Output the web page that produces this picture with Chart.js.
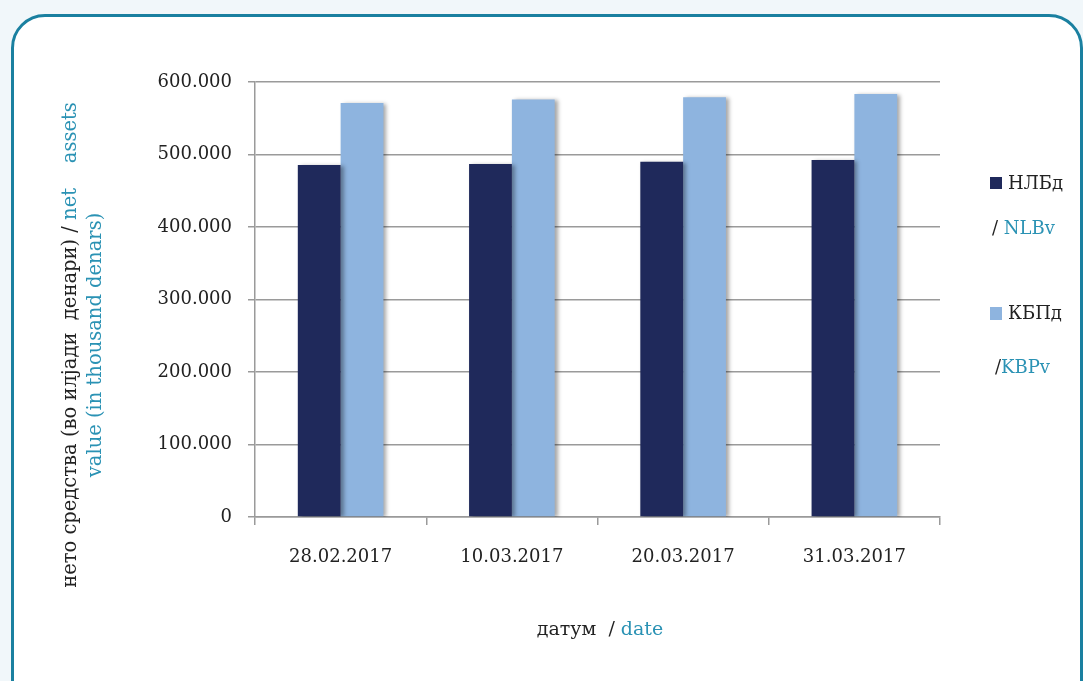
<!DOCTYPE html>
<html lang="mk">
<head>
  <meta charset="UTF-8">
  <title>Нето средства</title>
  <script src="https://cdn.jsdelivr.net/npm/chart.js"></script>
  <style>
    html, body { margin: 0; padding: 0; background: #f1f7fa; }
    .frame {
      position: absolute; left: 11px; top: 14px; width: 1066px; height: 720px;
      border: 3px solid #1a80a0; border-radius: 34px; background: #fff;
    }
    #chart { position: absolute; left: 0; top: 0; }
  </style>
</head>
<body>
  <div class="frame"></div>
  <canvas id="chart" width="1083" height="681"></canvas>

  <script>
    const dates = ['28.02.2017', '10.03.2017', '20.03.2017', '31.03.2017'];
    const nlbValues = [485500, 487000, 490000, 492300];
    const kbpValues = [571000, 576000, 579000, 583500];
    const yTicks = [0, 100000, 200000, 300000, 400000, 500000, 600000];

    const DARK = '#1f295b';
    const LIGHT = '#8eb4df';
    const TEAL = '#2a92b4';
    const INK = '#222';
    const SERIF = '"DejaVu Serif", "Liberation Serif", serif';

    // draw a row of [text, colour] pieces starting at x
    function drawPieces(ctx, pieces, x, y) {
      pieces.forEach(([t, c]) => {
        ctx.fillStyle = c;
        ctx.fillText(t, x, y);
        x += ctx.measureText(t).width;
      });
    }
    function piecesWidth(ctx, pieces) {
      return pieces.reduce((w, [t]) => w + ctx.measureText(t).width, 0);
    }

    const barShadow = {
      id: 'barShadow',
      beforeDatasetsDraw(chart) {
        const ctx = chart.ctx;
        ctx.save();
        ctx.shadowColor = 'rgba(0,0,0,0.35)';
        ctx.shadowOffsetX = 3;
        ctx.shadowOffsetY = 1;
        ctx.shadowBlur = 4;
      },
      afterDatasetsDraw(chart) {
        chart.ctx.restore();
      }
    };

    const titles = {
      id: 'titles',
      afterDraw(chart) {
        const ctx = chart.ctx;
        ctx.save();
        ctx.textBaseline = 'middle';
        ctx.font = '19.5px ' + SERIF;

        // y axis title, rotated, two lines
        const line1 = [['нето средства (во илјади  денари) / ', INK], ['net    assets', TEAL]];
        const line2 = [['value (in thousand denars)', TEAL]];
        ctx.save();
        ctx.translate(71, 345);
        ctx.rotate(-Math.PI / 2);
        drawPieces(ctx, line1, -piecesWidth(ctx, line1) / 2, 0);
        ctx.restore();
        ctx.save();
        ctx.translate(96, 345);
        ctx.rotate(-Math.PI / 2);
        drawPieces(ctx, line2, -piecesWidth(ctx, line2) / 2, 0);
        ctx.restore();

        // x axis title
        ctx.font = '19px ' + SERIF;
        const xt = [['датум  / ', INK], ['date', TEAL]];
        drawPieces(ctx, xt, 600 - piecesWidth(ctx, xt) / 2, 630);

        // legend
        ctx.font = '18px ' + SERIF;
        const ds = chart.data.datasets;
        ctx.fillStyle = ds[0].backgroundColor;
        ctx.fillRect(990, 177, 12, 12);
        drawPieces(ctx, [['НЛБд', INK]], 1008, 184);
        drawPieces(ctx, [['/ ', INK], ['NLBv', TEAL]], 992, 229);
        ctx.fillStyle = ds[1].backgroundColor;
        ctx.fillRect(990, 307, 12, 13);
        drawPieces(ctx, [['КБПд', INK]], 1008, 314);
        drawPieces(ctx, [['/', INK], ['KBPv', TEAL]], 995, 368);
        ctx.restore();
      }
    };

    new Chart(document.getElementById('chart'), {
      type: 'bar',
      data: {
        labels: dates,
        datasets: [
          { label: 'НЛБд / NLBv', data: nlbValues, backgroundColor: DARK },
          { label: 'КБПд / KBPv', data: kbpValues, backgroundColor: LIGHT }
        ]
      },
      options: {
        responsive: false,
        animation: false,
        layout: { padding: { top: 82, right: 143, left: 0, bottom: 0 } },
        datasets: { bar: { barPercentage: 1, categoryPercentage: 0.5 } },
        plugins: { legend: { display: false }, tooltip: { enabled: false } },
        scales: {
          x: {
            afterFit: s => { s.height = 164; },
            grid: { drawOnChartArea: false, tickLength: 8, color: '#9a9a9a', lineWidth: 1.5 },
            border: { color: '#9a9a9a', width: 1.5 },
            ticks: { color: INK, padding: 22, font: { family: SERIF, size: 18 } }
          },
          y: {
            min: 0,
            max: 600000,
            afterFit: s => { s.width = 255; },
            afterBuildTicks: s => { s.ticks = yTicks.map(v => ({ value: v })); },
            grid: { color: '#9a9a9a', lineWidth: 1.5, tickLength: 7 },
            border: { color: '#9a9a9a', width: 1.5 },
            ticks: {
              color: INK,
              padding: 16,
              font: { family: SERIF, size: 18 },
              callback: v => v === 0 ? '0' : (v / 1000).toFixed(0) + '.000'
            }
          }
        }
      },
      plugins: [barShadow, titles]
    });
  </script>
</body>
</html>
